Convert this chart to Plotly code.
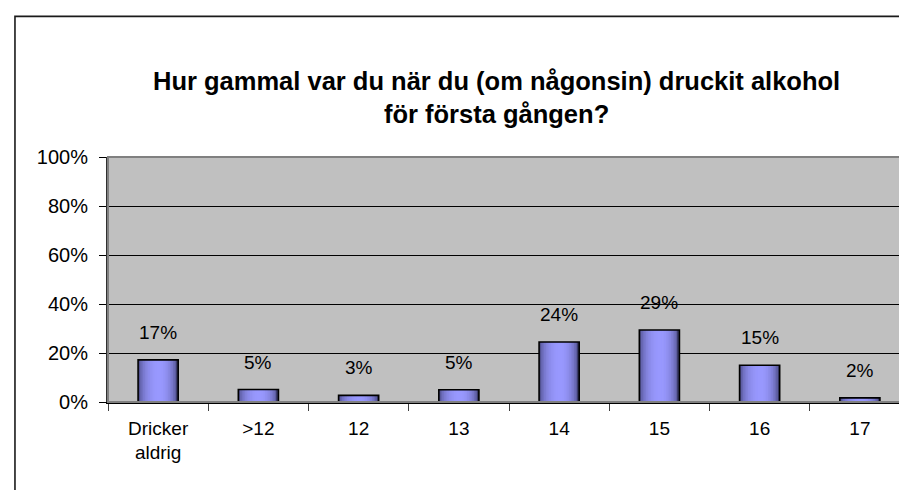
import plotly.graph_objects as go

categories = ["Dricker aldrig", ">12", "12", "13", "14", "15", "16", "17"]
tick_text = ["Dricker<br>aldrig", ">12", "12", "13", "14", "15", "16", "17"]
values = [17.2, 5.1, 2.7, 5.0, 24.5, 29.4, 15.0, 1.7]
value_labels = ["17%", "5%", "3%", "5%", "24%", "29%", "15%", "2%"]
y_ticks = [0, 20, 40, 60, 80, 100]
y_tick_labels = ["0%", "20%", "40%", "60%", "80%", "100%"]

title_text = ("<b>Hur gammal var du när du (om någonsin) druckit alkohol<br>"
              "för första gången?</b>")

FONT = "Liberation Sans, Arial, sans-serif"

fig = go.Figure()

# cylinder-like horizontal gradient built from overlapping strips
bar_w = 0.4
n_strips = 24
edge_l = (76, 76, 136)
edge_r = (60, 60, 108)
center = (153, 153, 255)
peak = 0.52
for i in range(n_strips):
    t = i / (n_strips - 1)
    if t <= peak:
        f = 1 - ((peak - t) / peak) ** 2
        e = edge_l
    else:
        f = 1 - ((t - peak) / (1 - peak)) ** 2
        e = edge_r
    f = max(0.0, min(1.0, f)) ** 0.6
    col = "rgb(%d,%d,%d)" % tuple(int(e[k] + (center[k] - e[k]) * f) for k in range(3))
    off = -bar_w / 2 + bar_w * i / n_strips
    fig.add_trace(go.Bar(
        x=tick_text, y=values,
        width=bar_w / 2 - off, offset=off,
        marker=dict(color=col, line=dict(width=0)),
        hoverinfo="skip", showlegend=False,
    ))

# outline
fig.add_trace(go.Bar(
    x=tick_text, y=values, width=bar_w, offset=-bar_w / 2,
    marker=dict(color="rgba(0,0,0,0)", line=dict(color="black", width=1.6)),
    showlegend=False, hovertext=categories,
))

for i, (v, lab) in enumerate(zip(values, value_labels)):
    fig.add_annotation(x=i, y=v, text=lab, showarrow=False, yanchor="bottom",
                       yshift=15, font=dict(family=FONT, size=19, color="black"))

# title
fig.add_annotation(x=0.485, y=1.0, xref="paper", yref="paper", text=title_text,
                   showarrow=False, yanchor="bottom", yshift=27,
                   font=dict(family=FONT, size=25.5, color="black"),
                   align="center")

# outer chart frame (extends past the right and bottom edges)
fig.add_shape(type="rect", xref="paper", yref="paper",
              x0=-0.116, x1=1.2, y0=-0.6, y1=1.574,
              line=dict(color="#1a1a1a", width=1.6), layer="above")
# plot area border
fig.add_shape(type="rect", xref="paper", yref="paper",
              x0=0, x1=1, y0=0, y1=1,
              line=dict(color="#808080", width=2), layer="above")

fig.update_layout(
    width=907, height=490,
    margin=dict(l=100, r=5, t=149, b=96),
    paper_bgcolor="white", plot_bgcolor="#C0C0C0",
    barmode="overlay",
    font=dict(family=FONT, size=19, color="black"),
    showlegend=False,
)
fig.update_xaxes(
    type="category", categoryorder="array", categoryarray=tick_text,
    tickson="boundaries", ticks="outside", ticklen=7, tickcolor="#404040",
    tickwidth=1, showline=True, linecolor="black", linewidth=1.5,
    showgrid=False, ticklabelstandoff=8, tickangle=0,
    tickfont=dict(family=FONT, size=19, color="black"),
)
fig.update_yaxes(
    range=[0, 100], tickvals=y_ticks, ticktext=y_tick_labels,
    ticks="outside", ticklen=7, tickcolor="black", tickwidth=1,
    showline=True, linecolor="#303030", linewidth=2,
    showgrid=True, gridcolor="black", gridwidth=1,
    zeroline=False, ticklabelstandoff=7,
    tickfont=dict(family=FONT, size=20, color="black"),
)

fig.write_html("out.html")
